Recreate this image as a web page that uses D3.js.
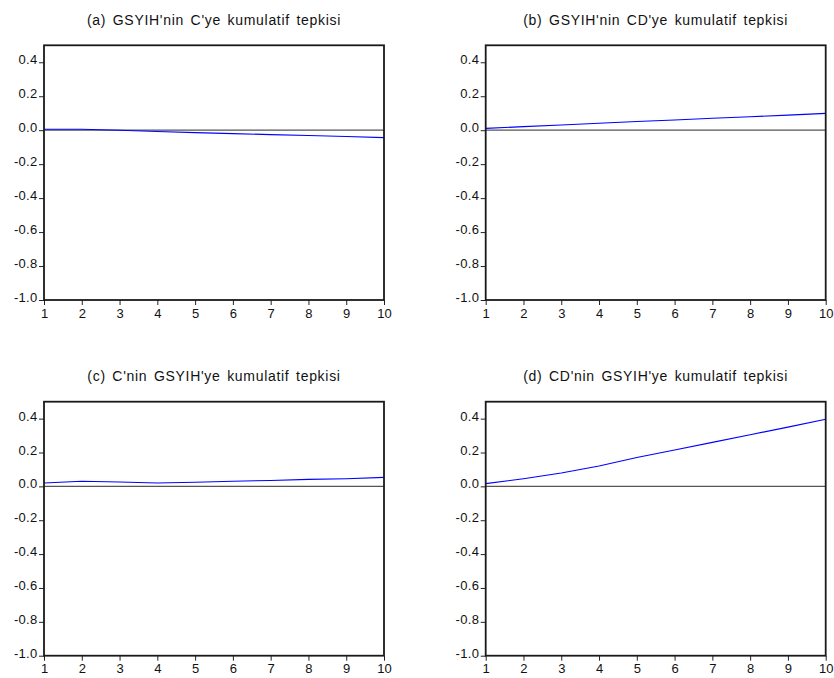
<!DOCTYPE html>
<html>
<head>
<meta charset="utf-8">
<script src="https://cdn.jsdelivr.net/npm/d3@7"></script>
<style>
  html, body { margin: 0; padding: 0; background: #fff; }
  svg { display: block; font-family: "Liberation Sans", Arial, sans-serif; }
</style>
</head>
<body>
<svg id="chart" width="834" height="678"></svg>
<script>
// Horizon (periods) shared by all panels
const periods = [1, 2, 3, 4, 5, 6, 7, 8, 9, 10];

// Cumulative impulse responses
const respGdpToC   = [0.006, 0.006, 0.000, -0.008, -0.014, -0.020, -0.026, -0.031, -0.037, -0.044];
const respGdpToCD  = [0.011, 0.021, 0.031, 0.041, 0.051, 0.060, 0.070, 0.079, 0.089, 0.099];
const respCToGdp   = [0.020, 0.030, 0.026, 0.020, 0.024, 0.030, 0.035, 0.041, 0.045, 0.053];
const respCDToGdp  = [0.016, 0.045, 0.079, 0.120, 0.170, 0.215, 0.260, 0.305, 0.350, 0.396];

// Panel titles
const panelTitles = [
  "(a) GSYIH'nin C'ye kumulatif tepkisi",
  "(b) GSYIH'nin CD'ye kumulatif tepkisi",
  "(c) C'nin GSYIH'ye kumulatif tepkisi",
  "(d) CD'nin GSYIH'ye kumulatif tepkisi"
];

// Axis ticks
const yTickValues = [-1.0, -0.8, -0.6, -0.4, -0.2, 0.0, 0.2, 0.4];
const yTickLabels = ["-1.0", "-0.8", "-0.6", "-0.4", "-0.2", "0.0", "0.2", "0.4"];
const xTickLabels = ["1", "2", "3", "4", "5", "6", "7", "8", "9", "10"];
const yDomain = [-1.0, 0.5];

const seriesList = [respGdpToC, respGdpToCD, respCToGdp, respCDToGdp];

// 2x2 grid of plot frames
const frames = [
  { x0: 44,    x1: 384,   y0: 45.3,  y1: 300 },
  { x0: 485.7, x1: 825.7, y0: 45.3,  y1: 300 },
  { x0: 44,    x1: 384,   y0: 401.7, y1: 655.7 },
  { x0: 485.7, x1: 825.7, y0: 401.7, y1: 655.7 }
];

const svg = d3.select("#chart");

frames.forEach((f, i) => {
  const g = svg.append("g");
  const x = d3.scaleLinear().domain([1, 10]).range([f.x0, f.x1]);
  const y = d3.scaleLinear().domain(yDomain).range([f.y1, f.y0]);

  // Title
  g.append("text")
    .attr("x", (f.x0 + f.x1) / 2)
    .attr("y", f.y0 - 20.5)
    .attr("text-anchor", "middle")
    .attr("font-size", 14)
    .attr("letter-spacing", "0.7px")
    .attr("word-spacing", "2px")
    .attr("fill", "#111")
    .text(panelTitles[i]);

  // Zero reference line
  g.append("line")
    .attr("x1", f.x0).attr("x2", f.x1)
    .attr("y1", y(0)).attr("y2", y(0))
    .attr("stroke", "#555").attr("stroke-width", 1.2);

  // Response line
  const line = d3.line()
    .x((d, k) => x(periods[k]))
    .y(d => y(d));
  g.append("path")
    .datum(seriesList[i])
    .attr("d", line)
    .attr("fill", "none")
    .attr("stroke", "#0000ff")
    .attr("stroke-width", 1.1);

  // Left axis
  const yAxis = d3.axisLeft(y)
    .tickValues(yTickValues)
    .tickSize(5)
    .tickPadding(1.5)
    .tickFormat((d, k) => yTickLabels[k]);
  const ya = g.append("g")
    .attr("transform", `translate(${f.x0},0)`)
    .call(yAxis);
  ya.select(".domain").remove();
  ya.selectAll(".tick line").attr("stroke", "#222").attr("stroke-width", 1);
  ya.selectAll(".tick text")
    .attr("font-size", 13)
    .attr("font-family", "Liberation Sans, Arial, sans-serif")
    .attr("letter-spacing", "0.3px")
    .attr("fill", "#111")
    .attr("dy", "0.12em");

  // Bottom axis
  const xAxis = d3.axisBottom(x)
    .tickValues(periods)
    .tickSize(5)
    .tickPadding(3.5)
    .tickFormat((d, k) => xTickLabels[k]);
  const xa = g.append("g")
    .attr("transform", `translate(0,${f.y1})`)
    .call(xAxis);
  xa.select(".domain").remove();
  xa.selectAll(".tick line").attr("stroke", "#222").attr("stroke-width", 1);
  xa.selectAll(".tick text")
    .attr("font-size", 13)
    .attr("font-family", "Liberation Sans, Arial, sans-serif")
    .attr("fill", "#111");

  // Plot frame
  g.append("rect")
    .attr("x", f.x0).attr("y", f.y0)
    .attr("width", f.x1 - f.x0).attr("height", f.y1 - f.y0)
    .attr("fill", "none")
    .attr("stroke", "#1a1a1a")
    .attr("stroke-width", 1.8);
});
</script>
</body>
</html>
